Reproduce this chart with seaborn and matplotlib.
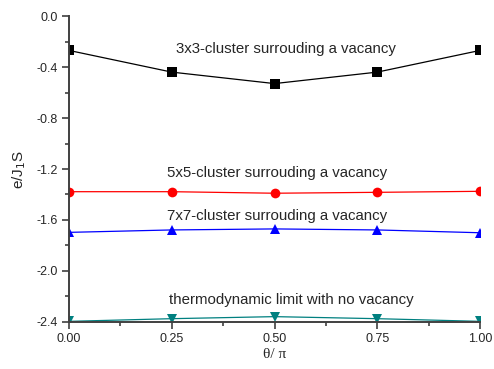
import pandas as pd
import matplotlib.pyplot as plt
import seaborn as sns
from matplotlib.ticker import MultipleLocator

# theta / pi values
theta = [0.00, 0.25, 0.50, 0.75, 1.00]

# energy per site for each case
e_3x3 = [-0.27, -0.44, -0.53, -0.44, -0.27]
e_5x5 = [-1.378, -1.378, -1.39, -1.383, -1.375]
e_7x7 = [-1.697, -1.678, -1.67, -1.678, -1.70]
e_thermo = [-2.395, -2.374, -2.358, -2.374, -2.395]

labels = ["3x3-cluster surrouding a vacancy",
          "5x5-cluster surrouding a vacancy",
          "7x7-cluster surrouding a vacancy",
          "thermodynamic limit with no vacancy"]

sns.set_style("ticks")
plt.rcParams['font.family'] = ['Liberation Sans', 'DejaVu Sans']

fig = plt.figure(figsize=(4.94, 3.69), dpi=100)
ax = fig.add_axes([0.1397, 0.1274, 0.832, 0.8292])

series = [(e_3x3, 'black', 's', 6.5), (e_5x5, 'red', 'o', 7),
          (e_7x7, 'blue', '^', 7.5), (e_thermo, '#008080', 'v', 7.5)]
for vals, col, mk, ms in series:
    df = pd.DataFrame({'theta': theta, 'e': vals})
    sns.lineplot(data=df, x='theta', y='e', ax=ax, color=col, marker=mk,
                 markersize=ms, markeredgewidth=0, linewidth=0.9)

ax.set_xlim(0, 1)
ax.set_ylim(-2.4, 0)
ax.xaxis.set_major_locator(MultipleLocator(0.25))
ax.xaxis.set_minor_locator(MultipleLocator(0.125))
ax.yaxis.set_major_locator(MultipleLocator(0.4))
ax.yaxis.set_minor_locator(MultipleLocator(0.2))
ax.xaxis.set_major_formatter(plt.FuncFormatter(lambda v, p: f"{v:.2f}"))
ax.yaxis.set_major_formatter(plt.FuncFormatter(lambda v, p: f"{v:.1f}"))

sns.despine(ax=ax)
for s in ['left', 'bottom']:
    ax.spines[s].set_linewidth(1.4)
    ax.spines[s].set_color('#404040')
ax.tick_params(which='major', length=5, width=1.2, color='#404040', labelsize=9, pad=3)
ax.tick_params(which='minor', length=3, width=1.2, color='#404040')

ax.set_xlabel("θ/ π", family=['Liberation Serif', 'DejaVu Serif'], fontsize=11, labelpad=2)
ax.set_ylabel("e/J$_1$S", fontsize=11, labelpad=6)

# annotation positions in data coords
ax.text(0.529, -0.26, labels[0], fontsize=10.8, ha='center', va='center')
ax.text(0.505, -1.228, labels[1], fontsize=10.8, ha='center', va='center')
ax.text(0.505, -1.565, labels[2], fontsize=10.8, ha='center', va='center')
ax.text(0.54, -2.228, labels[3], fontsize=10.8, ha='center', va='center')

plt.savefig("out.png", dpi=100)
